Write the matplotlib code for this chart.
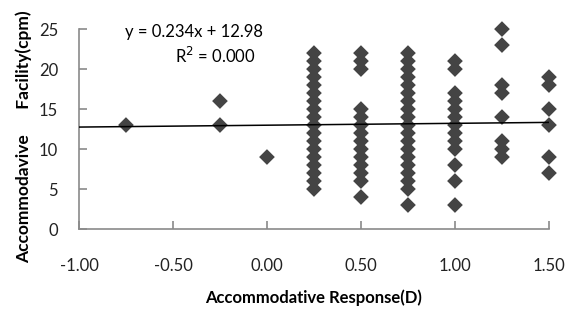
import matplotlib
matplotlib.use("Agg")
import matplotlib.pyplot as plt
import numpy as np

plt.rcParams['font.family'] = ['Lato', 'DejaVu Sans']

# accommodative response (D) and facility (cpm), read column by column
resp_levels = [-0.75, -0.25, 0.00, 0.25, 0.50, 0.75, 1.00, 1.25, 1.50]
facility = [
    [13],
    [16, 13],
    [9],
    [5, 6, 7, 8, 9, 10, 11, 12, 13, 14, 15, 16, 17, 18, 19, 20, 21, 22],
    [4, 6, 7, 8, 9, 10, 11, 12, 13, 14, 15, 20, 21, 22],
    [3, 5, 6, 7, 8, 9, 10, 11, 12, 13, 14, 15, 16, 17, 18, 19, 20, 21, 22],
    [3, 6, 8, 10, 11, 12, 13, 14, 15, 16, 17, 20, 21],
    [9, 10, 11, 14, 17, 18, 23, 25],
    [7, 9, 13, 15, 18, 19],
]
slope = 0.234
intercept = 12.98

x_ticks = [-1.0, -0.5, 0.0, 0.5, 1.0, 1.5]
y_ticks = [0, 5, 10, 15, 20, 25]

xs = []
ys = []
for r, vals in zip(resp_levels, facility):
    xs += [r] * len(vals)
    ys += vals

fig = plt.figure(figsize=(5.68, 3.23), dpi=100)
ax = fig.add_axes([0.139, 0.291, 0.8275, 0.619])

ax.scatter(xs, ys, marker='D', s=64, color='#444444', edgecolors='none',
           zorder=3, clip_on=False)

line_x = np.array([x_ticks[0], x_ticks[-1]])
ax.plot(line_x, slope * line_x + intercept, color='black', lw=1.1, zorder=4)

ax.set_xlim(x_ticks[0], x_ticks[-1])
ax.set_ylim(0, 25)
ax.set_xticks(x_ticks)
ax.set_yticks(y_ticks)
ax.set_xticklabels(['%.2f' % t for t in x_ticks])

for side in ['top', 'right']:
    ax.spines[side].set_visible(False)
for side in ['left', 'bottom']:
    ax.spines[side].set_color('#8a8a8a')
    ax.spines[side].set_linewidth(1.2)
ax.tick_params(axis='both', direction='in', length=6, width=1.2, color='#8a8a8a',
               labelsize=12, labelcolor='#222222')
ax.tick_params(axis='x', pad=21)
ax.tick_params(axis='y', pad=15)

ax.set_xlabel('Accommodative Response(D)', fontsize=12, fontweight='bold', labelpad=11)
ax.set_ylabel('Accommodavive      Facility(cpm)', fontsize=12.5, fontweight='bold',
              labelpad=5, y=0.46)

ax.text(0.245, 0.985, 'y = 0.234x + 12.98', transform=ax.transAxes, fontsize=12,
        ha='center', va='center')
ax.text(0.29, 0.865, 'R$^2$ = 0.000', transform=ax.transAxes, fontsize=12,
        ha='center', va='center')

fig.savefig('out.png', dpi=100)
